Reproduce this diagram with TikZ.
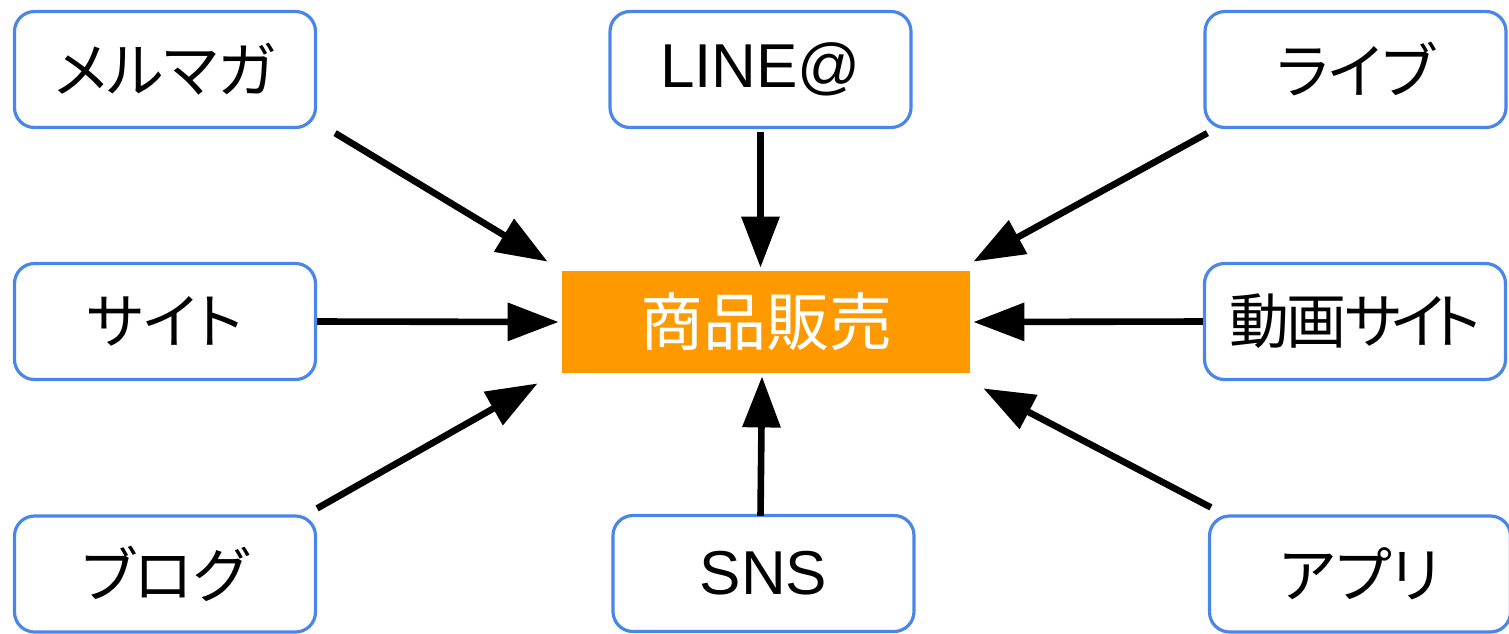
\documentclass[tikz,border=0pt]{standalone}
\usepackage{fontspec}
\setmainfont{Liberation Sans}
\newfontfamily\jp[RawFeature=+palt]{Noto Sans CJK JP}
\usetikzlibrary{arrows.meta,calc}
\definecolor{boxblue}{RGB}{74,134,232}
\definecolor{hub}{RGB}{255,153,0}

\begin{document}
\begin{tikzpicture}[x=0.5pt,y=-0.5pt,
  src/.style={draw=boxblue, line width=1.6pt, rounded corners=10pt,
    minimum width=150.5pt, minimum height=58pt, fill=white, inner sep=0pt,
    font=\jp\fontsize{30}{36}\selectfont},
  lat/.style={font=\fontsize{31}{37}\selectfont},
  hubbox/.style={fill=hub, minimum width=204pt, minimum height=51pt,
    inner sep=0pt, text=white, font=\jp\fontsize{31.5}{38}\selectfont},
  feed/.style={line width=3.3pt, -{Triangle[length=25.5pt,width=18.5pt]}}
]
\useasboundingbox (0,0) rectangle (1509,633);

% outer channels
\node[src] (mm)    at (165,69.5)    {メルマガ};
\node[src,lat] (line) at (760.5,69.5) {LINE@};
\node[src] (live)  at (1355.5,69.5) {ライブ};
\node[src] (site)  at (165,321.5)   {サイト};
\node[src] (douga) at (1355,321.5)  {動\kern-1.5pt 画\kern-1pt サ\kern-5pt イ\kern-5pt ト};
\node[src] (blog)  at (165,574)     {ブログ};
\node[src,lat] (sns) at (763.5,573.5) {SNS};
\node[src] (app)   at (1360,574)    {アプリ};

% central target
\node[hubbox] (hub) at (766,322) {商品販売};

% arrows into the centre
\draw[feed] ($(mm.south east)+(18,4)$) -- ($(hub.north west)+(-14,-9)$);
\draw[feed] ($(line.south)+(0,3)$) -- ($(line.south |- hub.north)+(0,-3)$);
\draw[feed] ($(live.south west)+(4,4)$) -- ($(hub.north east)+(3,-9)$);
\draw[feed] (site.east) -- ($(hub.west)+(-3,0)$);
\draw[feed] (douga.west) -- ($(hub.east)+(3,0)$);
\draw[feed] ($(blog.north east)+(0,-6)$) -- ($(hub.south west)+(-24,10)$);
\draw[feed] ($(sns.north)+(-3,2)$) -- ($(hub.south)+(-4,3)$);
\draw[feed] ($(app.north west)+(3,-7)$) -- ($(hub.south east)+(13,15)$);
\end{tikzpicture}
\end{document}
